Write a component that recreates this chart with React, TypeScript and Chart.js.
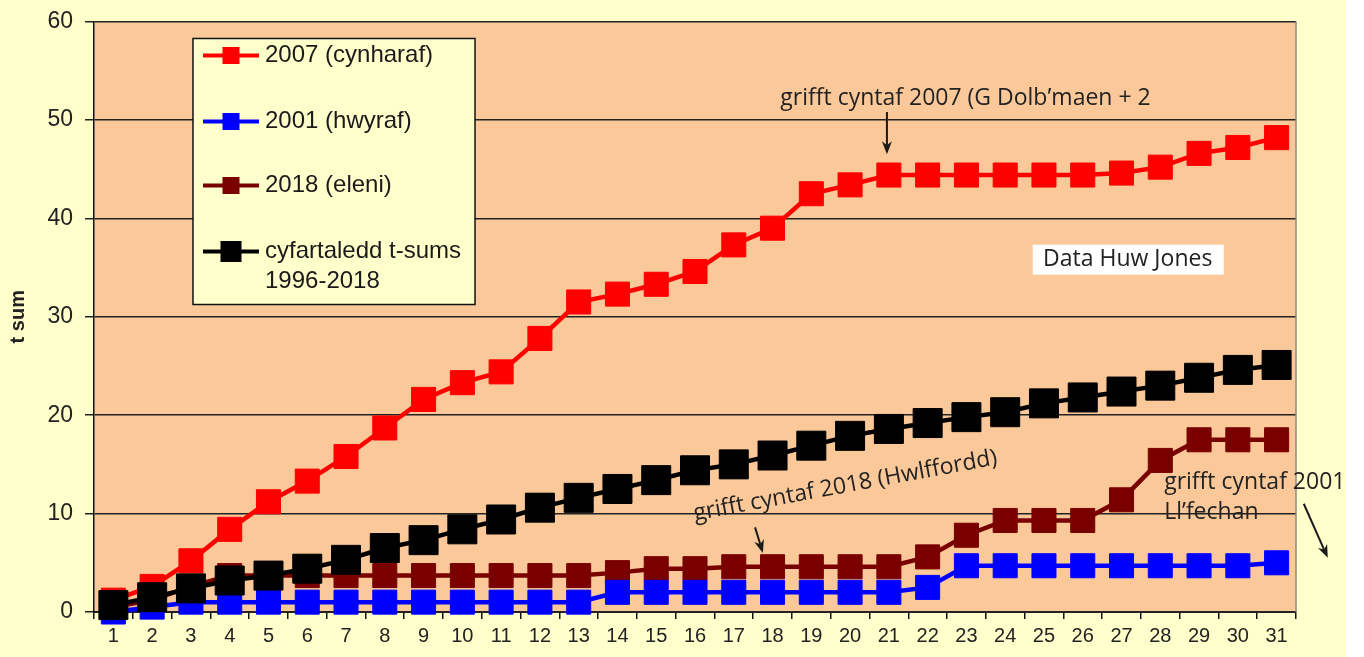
import React, { useEffect, useRef } from 'react';
import { Chart, registerables } from 'chart.js';

Chart.register(...registerables);

// ---------- DATA ----------
const categories = ['1', '2', '3', '4', '5', '6', '7', '8', '9', '10', '11', '12', '13', '14', '15', '16', '17', '18', '19', '20', '21', '22', '23', '24', '25', '26', '27', '28', '29', '30', '31'];

const series2007 = [1.2, 2.6, 5.2, 8.4, 11.2, 13.3, 15.8, 18.7, 21.6, 23.3, 24.4, 27.8, 31.5, 32.3, 33.3, 34.6, 37.3, 39.0, 42.5, 43.4, 44.4, 44.4, 44.4, 44.4, 44.4, 44.4, 44.6, 45.2, 46.6, 47.2, 48.2];
const series2001 = [0.0, 0.5, 1.0, 1.0, 1.0, 1.0, 1.0, 1.0, 1.0, 1.0, 1.0, 1.0, 1.0, 2.0, 2.0, 2.0, 2.0, 2.0, 2.0, 2.0, 2.0, 2.5, 4.7, 4.7, 4.7, 4.7, 4.7, 4.7, 4.7, 4.7, 5.0];
const series2018 = [0.5, 1.2, 2.6, 3.7, 3.7, 3.7, 3.7, 3.7, 3.7, 3.7, 3.7, 3.7, 3.7, 4.0, 4.4, 4.4, 4.6, 4.6, 4.6, 4.6, 4.6, 5.6, 7.8, 9.3, 9.3, 9.3, 11.4, 15.4, 17.5, 17.5, 17.5];
const seriesAverage = [0.7, 1.5, 2.4, 3.2, 3.7, 4.4, 5.3, 6.5, 7.3, 8.4, 9.4, 10.6, 11.6, 12.5, 13.4, 14.4, 15.0, 15.9, 16.9, 17.9, 18.6, 19.2, 19.8, 20.3, 21.2, 21.8, 22.4, 23.0, 23.8, 24.6, 25.1];

const seriesLabels = ['2007 (cynharaf)', '2001 (hwyraf)', '2018 (eleni)', 'cyfartaledd t-sums\n1996-2018'];
const yAxisTitle = 't sum';
const yMin = 0;
const yMax = 60;
const yStep = 10;

const note2007 = 'grifft cyntaf 2007 (G Dolb’maen + 2';
const note2018 = 'grifft cyntaf 2018 (Hwlffordd)';
const note2001 = ['grifft cyntaf 2001', 'Ll’fechan'];
const noteCredit = 'Data Huw Jones';

// ---------- STYLE ----------
const PAGE_BG = '#FFFFCC';
const PLOT_BG = '#FBC999';
const COLORS = ['#FF0000', '#0000FF', '#7A0000', '#000000'];
const AXIS_FONT = '"Liberation Sans", Arial, sans-serif';
const NOTE_FONT = '"Open Sans", sans-serif';

function drawArrow(ctx: CanvasRenderingContext2D, x1: number, y1: number, x2: number, y2: number) {
  const ang = Math.atan2(y2 - y1, x2 - x1);
  const head = 13;
  const hw = 5;
  ctx.save();
  ctx.strokeStyle = '#1a1a1a';
  ctx.fillStyle = '#1a1a1a';
  ctx.lineWidth = 2;
  ctx.beginPath();
  ctx.moveTo(x1, y1);
  ctx.lineTo(x2 - Math.cos(ang) * head * 0.7, y2 - Math.sin(ang) * head * 0.7);
  ctx.stroke();
  const bx = x2 - Math.cos(ang) * head;
  const by = y2 - Math.sin(ang) * head;
  const mx = x2 - Math.cos(ang) * head * 0.7;
  const my = y2 - Math.sin(ang) * head * 0.7;
  ctx.beginPath();
  ctx.moveTo(x2, y2);
  ctx.lineTo(bx + Math.sin(ang) * hw, by - Math.cos(ang) * hw);
  ctx.lineTo(mx, my);
  ctx.lineTo(bx - Math.sin(ang) * hw, by + Math.cos(ang) * hw);
  ctx.closePath();
  ctx.fill();
  ctx.restore();
}

const decorPlugin = {
  id: 'decor',
  beforeDraw(chart: any) {
    const { ctx, chartArea: a } = chart;
    ctx.save();
    ctx.fillStyle = PLOT_BG;
    ctx.fillRect(a.left, a.top, a.right - a.left, a.bottom - a.top);
    ctx.restore();
  },
  afterDraw(chart: any) {
    const { ctx, chartArea: a } = chart;
    const xs = chart.scales.x;
    const ys = chart.scales.y;
    const px = (i: number) => xs.getPixelForValue(i);
    const py = (v: number) => ys.getPixelForValue(v);

    // right border of plot area
    ctx.save();
    ctx.strokeStyle = '#8a8a8a';
    ctx.lineWidth = 1.5;
    ctx.beginPath();
    ctx.moveTo(a.right, a.top);
    ctx.lineTo(a.right, a.bottom);
    ctx.stroke();
    ctx.restore();

    // legend box
    const lx = a.left + 99;
    const ly = a.top + 17;
    const lw = 282;
    const lh = 266;
    ctx.save();
    ctx.fillStyle = PAGE_BG;
    ctx.fillRect(lx, ly, lw, lh);
    ctx.strokeStyle = '#111';
    ctx.lineWidth = 1.5;
    ctx.strokeRect(lx, ly, lw, lh);
    const rows = [17, 83, 147, 213];
    const markerSizes = [17, 17, 17, 21];
    ctx.font = `24px ${AXIS_FONT}`;
    ctx.textBaseline = 'middle';
    ctx.textAlign = 'left';
    seriesLabels.forEach((label, i) => {
      const ry = ly + rows[i];
      ctx.strokeStyle = COLORS[i];
      ctx.lineWidth = 4;
      ctx.beginPath();
      ctx.moveTo(lx + 10, ry);
      ctx.lineTo(lx + 66, ry);
      ctx.stroke();
      const s = markerSizes[i];
      ctx.fillStyle = COLORS[i];
      ctx.fillRect(lx + 38 - s / 2, ry - s / 2, s, s);
      ctx.fillStyle = '#1a1a1a';
      label.split('\n').forEach((line, j) => {
        ctx.fillText(line, lx + 72, ry + j * 30);
      });
    });
    ctx.restore();

    // annotations
    ctx.save();
    ctx.fillStyle = '#222';
    ctx.font = `23px ${NOTE_FONT}`;
    ctx.textBaseline = 'middle';
    ctx.textAlign = 'left';
    ctx.fillText(note2007, px(17.2), py(52.2));
    drawArrow(ctx, px(19.95), py(50.8), px(19.95), py(46.5));

    // credit box
    const cx = px(26.16);
    const cy = py(35.8);
    ctx.fillStyle = '#FFFFFF';
    ctx.fillRect(cx - 95, cy - 15, 191, 30);
    ctx.fillStyle = '#222';
    ctx.textAlign = 'center';
    ctx.fillText(noteCredit, cx, cy);

    // 2018 rotated note
    ctx.save();
    ctx.translate(px(15.0), py(9.3));
    ctx.rotate(-10.5 * Math.PI / 180);
    ctx.textAlign = 'left';
    ctx.textBaseline = 'alphabetic';
    ctx.fillText(note2018, 0, 0);
    ctx.restore();
    drawArrow(ctx, px(16.55), py(8.6), px(16.75), py(6.0));

    // 2001 note
    ctx.textAlign = 'left';
    ctx.textBaseline = 'middle';
    ctx.fillText(note2001[0], px(27.1), py(13.2));
    ctx.fillText(note2001[1], px(27.1), py(10.1));
    drawArrow(ctx, px(30.7), py(11.0), px(31.32), py(5.5));
    ctx.restore();
  },
};

export default function App() {
  const canvasRef = useRef<HTMLCanvasElement | null>(null);

  useEffect(() => {
    if (!canvasRef.current) return;
    const all = [series2007, series2001, series2018, seriesAverage];
    const orders = [3, 1, 2, 0];
    const radii = [17, 17, 17, 20.5];
    const chart = new Chart(canvasRef.current, {
      type: 'line',
      data: {
        labels: categories,
        datasets: all.map((d, i) => ({
          label: seriesLabels[i].replace('\n', ' '),
          data: d,
          borderColor: COLORS[i],
          backgroundColor: COLORS[i],
          borderWidth: 4.5,
          pointStyle: 'rect',
          pointRadius: radii[i],
          pointHoverRadius: radii[i],
          pointBorderWidth: 1,
          pointBackgroundColor: COLORS[i],
          pointBorderColor: COLORS[i],
          order: orders[i],
          clip: false as any,
          tension: 0,
          fill: false,
        })),
      },
      options: {
        animation: false,
        responsive: true,
        maintainAspectRatio: false,
        layout: { padding: { top: 19, right: 50, left: 0, bottom: 0 } },
        plugins: {
          legend: { display: false },
          tooltip: { enabled: false },
        },
        events: [],
        scales: {
          x: {
            type: 'category',
            offset: true,
            grid: {
              offset: true,
              drawOnChartArea: false,
              drawTicks: true,
              tickLength: 7,
              color: '#111',
              lineWidth: 1.5,
            },
            border: { color: '#222', width: 2 },
            ticks: {
              font: { family: AXIS_FONT, size: 20 },
              color: '#222',
              padding: 5,
              maxRotation: 0,
              autoSkip: false,
            },
            afterFit: (s: any) => {
              s.height = 45;
              s.paddingLeft = 0;
              s.paddingRight = 0;
            },
          },
          y: {
            min: yMin,
            max: yMax,
            ticks: {
              stepSize: yStep,
              font: { family: AXIS_FONT, size: 23 },
              color: '#222',
              padding: 12,
            },
            grid: {
              color: '#222',
              lineWidth: 1.5,
              tickLength: 9,
              drawTicks: true,
            },
            border: { color: '#111', width: 1.5 },
            title: {
              display: true,
              text: yAxisTitle,
              font: { family: AXIS_FONT, size: 20, weight: 'bold' },
              color: '#222',
              padding: { top: 6, bottom: 0 },
            },
            afterFit: (s: any) => {
              s.width = 94;
              s.paddingTop = 0;
              s.paddingBottom = 0;
            },
          },
        },
      },
      plugins: [decorPlugin],
    } as any);
    return () => chart.destroy();
  }, []);

  return (
    <div
      style={{
        position: 'absolute',
        left: 0,
        top: 0,
        width: 1346,
        height: 657,
        background: PAGE_BG,
      }}
    >
      <canvas ref={canvasRef} />
    </div>
  );
}
